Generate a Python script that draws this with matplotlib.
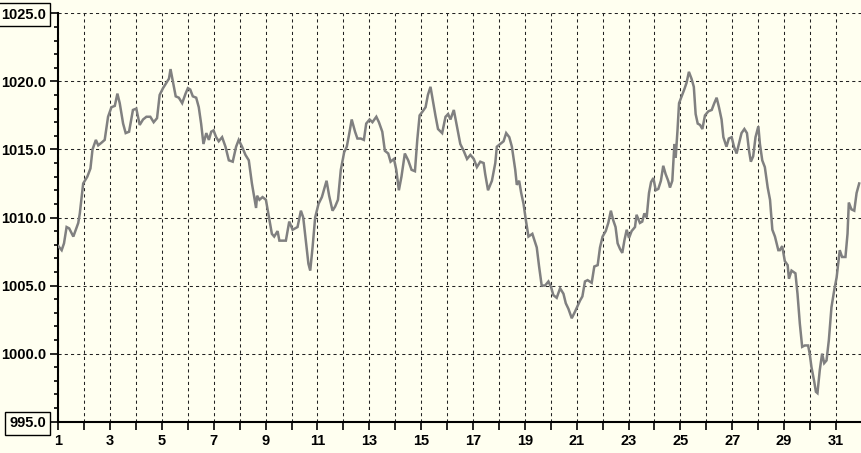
import numpy as np
import matplotlib
matplotlib.use("Agg")
import matplotlib.pyplot as plt
from matplotlib.ticker import MultipleLocator

# jour du mois (fractionnaire) et pression (hPa)
days = [
    1.00, 1.13, 1.22, 1.32, 1.42, 1.58, 1.77, 1.83, 1.96, 2.12, 2.24, 2.32, 2.45, 2.54,
    2.67, 2.79, 2.92, 3.05, 3.18, 3.28, 3.37, 3.50, 3.60, 3.73, 3.88, 4.01, 4.14, 4.27,
    4.40, 4.55, 4.68, 4.81, 4.91, 5.04, 5.17, 5.27, 5.33, 5.42, 5.53, 5.65, 5.78, 5.91,
    6.00, 6.09, 6.19, 6.32, 6.42, 6.51, 6.60, 6.71, 6.81, 6.90, 6.99, 7.09, 7.19, 7.32,
    7.45, 7.58, 7.73, 7.86, 7.96, 8.09, 8.22, 8.35, 8.47, 8.56, 8.63, 8.67, 8.76, 8.88,
    9.01, 9.14, 9.24, 9.33, 9.46, 9.53, 9.78, 9.91, 10.04, 10.23, 10.36, 10.45, 10.55,
    10.65, 10.72, 10.81, 10.91, 11.04, 11.17, 11.26, 11.35, 11.45, 11.58, 11.68, 11.79,
    11.90, 12.03, 12.13, 12.22, 12.32, 12.45, 12.54, 12.67, 12.79, 12.88, 13.01, 13.12,
    13.27, 13.37, 13.50, 13.60, 13.73, 13.82, 13.95, 14.04, 14.14, 14.24, 14.37, 14.50,
    14.63, 14.76, 14.85, 14.94, 15.06, 15.17, 15.26, 15.36, 15.45, 15.55, 15.65, 15.81,
    15.94, 16.04, 16.13, 16.26, 16.38, 16.51, 16.64, 16.77, 16.90, 17.03, 17.15, 17.28,
    17.41, 17.47, 17.58, 17.73, 17.86, 17.92, 18.05, 18.18, 18.28, 18.40, 18.50, 18.63,
    18.69, 18.78, 18.86, 18.95, 19.04, 19.14, 19.29, 19.46, 19.55, 19.65, 19.78, 19.91,
    20.01, 20.10, 20.23, 20.36, 20.49, 20.58, 20.68, 20.81, 20.94, 21.06,
    21.13, 21.22, 21.32, 21.42, 21.58, 21.68, 21.81, 21.90, 22.00, 22.12, 22.22, 22.32,
    22.41, 22.50, 22.58, 22.67, 22.76, 22.84, 22.93, 23.02, 23.12, 23.25, 23.31, 23.44,
    23.53, 23.61, 23.70, 23.79, 23.87, 23.96, 24.05, 24.15, 24.25, 24.34, 24.43, 24.53,
    24.60, 24.69, 24.77, 24.82, 24.89, 24.95, 25.05, 25.15, 25.24, 25.33, 25.43, 25.52,
    25.59, 25.67, 25.76, 25.85, 25.95, 26.08, 26.21, 26.31, 26.40, 26.49, 26.59, 26.66,
    26.78, 26.87, 26.98, 27.07, 27.17, 27.26, 27.36, 27.47, 27.57, 27.65, 27.72, 27.81,
    27.90, 28.01, 28.07, 28.16, 28.26, 28.37, 28.46, 28.55, 28.65, 28.78, 28.84, 28.93,
    29.03, 29.14, 29.19, 29.29, 29.44, 29.52, 29.61, 29.70, 29.80, 29.93, 29.99, 30.06,
    30.16, 30.23, 30.29, 30.38, 30.47, 30.55, 30.64, 30.73, 30.83, 30.94, 31.03, 31.15,
    31.24, 31.37, 31.45, 31.50, 31.60, 31.71, 31.80, 31.90,
]
pressure = [
    1007.9, 1007.6, 1008.1, 1009.3, 1009.2, 1008.6, 1009.6, 1010.3, 1012.5, 1013.0, 1013.6, 1015.0, 1015.7, 1015.3,
    1015.5, 1015.7, 1017.4, 1018.1, 1018.2, 1019.1, 1018.4, 1016.9, 1016.2, 1016.3, 1017.9, 1018.0, 1016.8, 1017.2,
    1017.4, 1017.4, 1017.0, 1017.3, 1019.0, 1019.5, 1019.9, 1020.2, 1020.9, 1020.0, 1018.9, 1018.8, 1018.4, 1019.1,
    1019.5, 1019.4, 1018.9, 1018.8, 1018.1, 1016.9, 1015.4, 1016.2, 1015.7, 1016.3, 1016.4, 1015.9, 1015.6, 1015.9,
    1015.2, 1014.2, 1014.1, 1015.2, 1015.7, 1015.2, 1014.6, 1014.2, 1012.5, 1011.5, 1010.7, 1011.6, 1011.3, 1011.5,
    1011.3, 1009.9, 1008.8, 1008.6, 1009.0, 1008.3, 1008.3, 1009.7, 1009.1, 1009.3, 1010.5, 1010.0, 1008.3,
    1006.6, 1006.1, 1007.8, 1010.0, 1011.0, 1011.5, 1012.1, 1012.7, 1011.6, 1010.5, 1010.8, 1011.3,
    1013.5, 1014.8, 1015.2, 1016.1, 1017.2, 1016.3, 1015.8, 1015.8, 1015.7, 1016.9, 1017.2, 1017.0,
    1017.4, 1017.0, 1016.3, 1014.9, 1014.7, 1014.1, 1014.3, 1013.5, 1012.0, 1013.0, 1014.7, 1014.2,
    1013.5, 1013.4, 1015.7, 1017.5, 1017.8, 1018.1, 1019.0, 1019.6, 1018.6, 1017.5, 1016.5, 1016.2,
    1017.4, 1017.6, 1017.2, 1017.9, 1016.7, 1015.4, 1014.9, 1014.3, 1014.6, 1014.3, 1013.7, 1014.1,
    1014.0, 1013.2, 1012.0, 1012.7, 1014.0, 1015.2, 1015.4, 1015.6, 1016.2, 1015.9, 1015.2, 1013.5,
    1012.4, 1012.7, 1011.8, 1011.0, 1009.8, 1008.6, 1008.8, 1007.8, 1006.4, 1005.0, 1005.0, 1005.3,
    1004.9, 1004.3, 1004.1, 1004.8, 1004.4, 1003.7, 1003.3, 1002.6, 1003.1, 1003.6,
    1003.9, 1004.2, 1005.3, 1005.4, 1005.2, 1006.4, 1006.5, 1007.8, 1008.6, 1009.0, 1009.6, 1010.5,
    1009.8, 1009.3, 1008.1, 1007.7, 1007.4, 1008.3, 1009.1, 1008.5, 1009.0, 1009.3, 1010.2, 1009.6,
    1009.7, 1010.3, 1010.0, 1011.8, 1012.6, 1012.9, 1012.0, 1012.1, 1012.7, 1013.8, 1013.2, 1012.7,
    1012.2, 1012.7, 1015.4, 1014.4, 1016.4, 1018.4, 1018.9, 1019.4, 1019.9, 1020.7, 1020.2, 1019.6,
    1017.6, 1016.9, 1016.8, 1016.5, 1017.5, 1017.8, 1017.9, 1018.4, 1018.8, 1018.1, 1017.2, 1015.9,
    1015.2, 1015.8, 1015.9, 1015.2, 1014.7, 1015.4, 1016.2, 1016.5, 1016.2, 1014.9, 1014.1, 1014.5,
    1015.9, 1016.7, 1015.4, 1014.2, 1013.7, 1012.2, 1011.3, 1009.1, 1008.6, 1007.6, 1007.6, 1007.9,
    1006.8, 1006.5, 1005.5, 1006.1, 1005.9, 1004.4, 1002.2, 1000.5, 1000.6, 1000.6, 1000.0, 999.0,
    998.0, 997.2, 997.1, 998.8, 1000.0, 999.3, 999.5, 1001.0, 1003.4, 1004.7, 1005.6, 1007.6,
    1007.1, 1007.1, 1008.8, 1011.1, 1010.6, 1010.5, 1011.8, 1012.5,
]

y_ticks = [995, 1000, 1005, 1010, 1015, 1020, 1025]
day_ticks = list(range(1, 32))

plt.rcParams['font.family'] = ['Liberation Sans', 'DejaVu Sans']
plt.rcParams['font.weight'] = 'bold'

bg = '#FFFFF0'
fig = plt.figure(figsize=(8.61, 4.53), dpi=100, facecolor=bg)
ax = fig.add_axes([58.3 / 861, 31.3 / 453, (861 - 58.3) / 861, 408.4 / 453])
ax.set_facecolor(bg)

ax.plot(days, pressure, color='#808080', lw=1.8, solid_joinstyle='miter', zorder=3)

ax.set_xlim(1, 31.97)
ax.set_ylim(995, 1025)

ax.set_xticks(day_ticks)
ax.set_xticklabels([str(d) if d % 2 == 1 else '' for d in day_ticks])
ax.set_yticks(y_ticks)
ax.set_yticklabels(['%.1f' % v for v in y_ticks])
ax.yaxis.set_minor_locator(MultipleLocator(1))

ax.tick_params(axis='both', which='major', direction='out', length=6, width=1.2,
               colors='black', labelsize=10.5, pad=3)
ax.tick_params(axis='y', which='major', length=6, pad=3)
ax.tick_params(axis='y', which='minor', direction='out', length=3, width=1.2)

for s in ['top', 'right']:
    ax.spines[s].set_visible(False)
for s in ['left', 'bottom']:
    ax.spines[s].set_linewidth(1.5)
    ax.spines[s].set_color('black')

ax.grid(True, which='major', color='#222222', lw=0.75, linestyle=(0, (3, 3)))
ax.set_axisbelow(True)

# cadre autour de la premiere et derniere etiquette
labels = ax.get_yticklabels()
for lab in (labels[0], labels[-1]):
    lab.set_bbox(dict(boxstyle='square,pad=0.3', fc='none', ec='black', lw=1))

fig.savefig('out.png', dpi=100, facecolor=bg)
